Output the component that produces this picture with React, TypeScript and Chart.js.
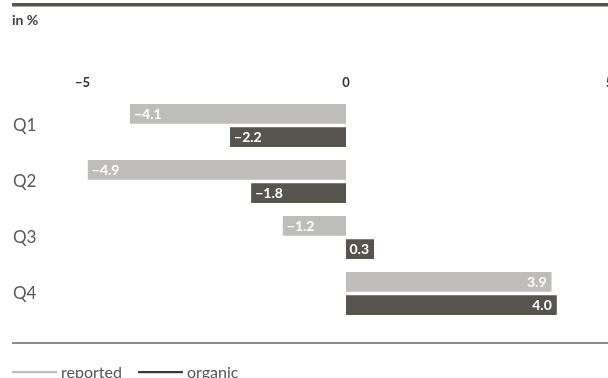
import React, { useEffect, useRef } from "react";
import { Chart, registerables } from "chart.js";

Chart.register(...registerables);

const categories = ["Q1", "Q2", "Q3", "Q4"];
const reported = [-4.1, -4.9, -1.2, 3.9];
const organic = [-2.2, -1.8, 0.3, 4.0];
const seriesNames = ["reported", "organic"];
const unitLabel = "in %";
const xMin = -5;
const xMax = 5;
const xStep = 5;

const FONT = 'Lato, "Open Sans", sans-serif';
const LIGHT = "#bebdbb";
const DARK = "#57534e";

const fmt = (v: number, digits: number) => {
  const s = digits > 0 ? Math.abs(v).toFixed(digits) : String(Math.abs(v));
  return v < 0 ? "\u2212" + s : s;
};

const decorPlugin = {
  id: "decor",
  afterDraw(chart: any) {
    const ctx = chart.ctx as CanvasRenderingContext2D;
    ctx.save();
    // top rule
    ctx.fillStyle = DARK;
    ctx.fillRect(12, 3, 600, 3.5);
    // unit label
    ctx.fillStyle = "#3c3c3c";
    ctx.font = `bold 14px ${FONT}`;
    ctx.textAlign = "left";
    ctx.textBaseline = "alphabetic";
    ctx.fillText(unitLabel, 12, 25);
    // bottom rule
    ctx.fillStyle = "#8c8c8c";
    ctx.fillRect(12, 342, 600, 2);
    // legend
    const legendColors = [LIGHT, "#3d3a37"];
    const legendX = [12, 138];
    ctx.font = `16px ${FONT}`;
    seriesNames.forEach((name, i) => {
      ctx.fillStyle = legendColors[i];
      ctx.fillRect(legendX[i], 371, 45, 2.2);
      ctx.fillStyle = "#555555";
      ctx.fillText(name, legendX[i] + 49, 377.5);
    });
    // data labels
    ctx.font = `bold 14px ${FONT}`;
    ctx.fillStyle = "#ffffff";
    ctx.textBaseline = "middle";
    chart.data.datasets.forEach((ds: any, di: number) => {
      const meta = chart.getDatasetMeta(di);
      meta.data.forEach((el: any, i: number) => {
        const v = ds.data[i] as number;
        const text = fmt(v, 1);
        if (v < 0) {
          ctx.textAlign = "left";
          ctx.fillText(text, el.x + 4, el.y + 0.5);
        } else {
          ctx.textAlign = "right";
          ctx.fillText(text, el.x - 5, el.y + 0.5);
        }
      });
    });
    ctx.restore();
  },
};

export default function App() {
  const ref = useRef<HTMLCanvasElement>(null);
  useEffect(() => {
    if (!ref.current) return;
    const chart = new Chart(ref.current, {
      type: "bar",
      data: {
        labels: categories,
        datasets: [
          {
            label: seriesNames[0],
            data: reported,
            backgroundColor: LIGHT,
            barPercentage: 0.845,
            categoryPercentage: 0.832,
            minBarLength: 28,
          },
          {
            label: seriesNames[1],
            data: organic,
            backgroundColor: DARK,
            barPercentage: 0.845,
            categoryPercentage: 0.832,
            minBarLength: 28,
          },
        ],
      },
      options: {
        indexAxis: "y",
        animation: false,
        responsive: false,
        devicePixelRatio: 1,
        layout: { padding: { left: 13, right: 14.5, top: 67.5, bottom: 56.5 } },
        plugins: { legend: { display: false }, tooltip: { enabled: false } },
        scales: {
          x: {
            position: "top",
            min: xMin,
            max: xMax,
            grid: { display: false, drawTicks: false },
            border: { display: false },
            ticks: {
              stepSize: xStep,
              padding: 7,
              color: "#333333",
              font: { family: FONT, size: 13, weight: "bold" },
              callback: (v: any) => fmt(Number(v), 0),
            },
            afterFit: (s: any) => {
              s.height = 30;
            },
          },
          y: {
            grid: { display: false, drawTicks: false },
            border: { display: false },
            ticks: {
              crossAlign: "far",
              padding: 0,
              color: "#595959",
              font: { family: FONT, size: 17 },
            },
            afterFit: (s: any) => {
              s.width = 69.5;
            },
          },
        },
      } as any,
      plugins: [decorPlugin],
    });
    return () => chart.destroy();
  }, []);
  return (
    <div
      style={{
        position: "fixed",
        left: 0,
        top: 0,
        width: 608,
        height: 378,
        overflow: "hidden",
        background: "#ffffff",
      }}
    >
      <canvas ref={ref} width={624} height={378} style={{ display: "block" }} />
    </div>
  );
}
